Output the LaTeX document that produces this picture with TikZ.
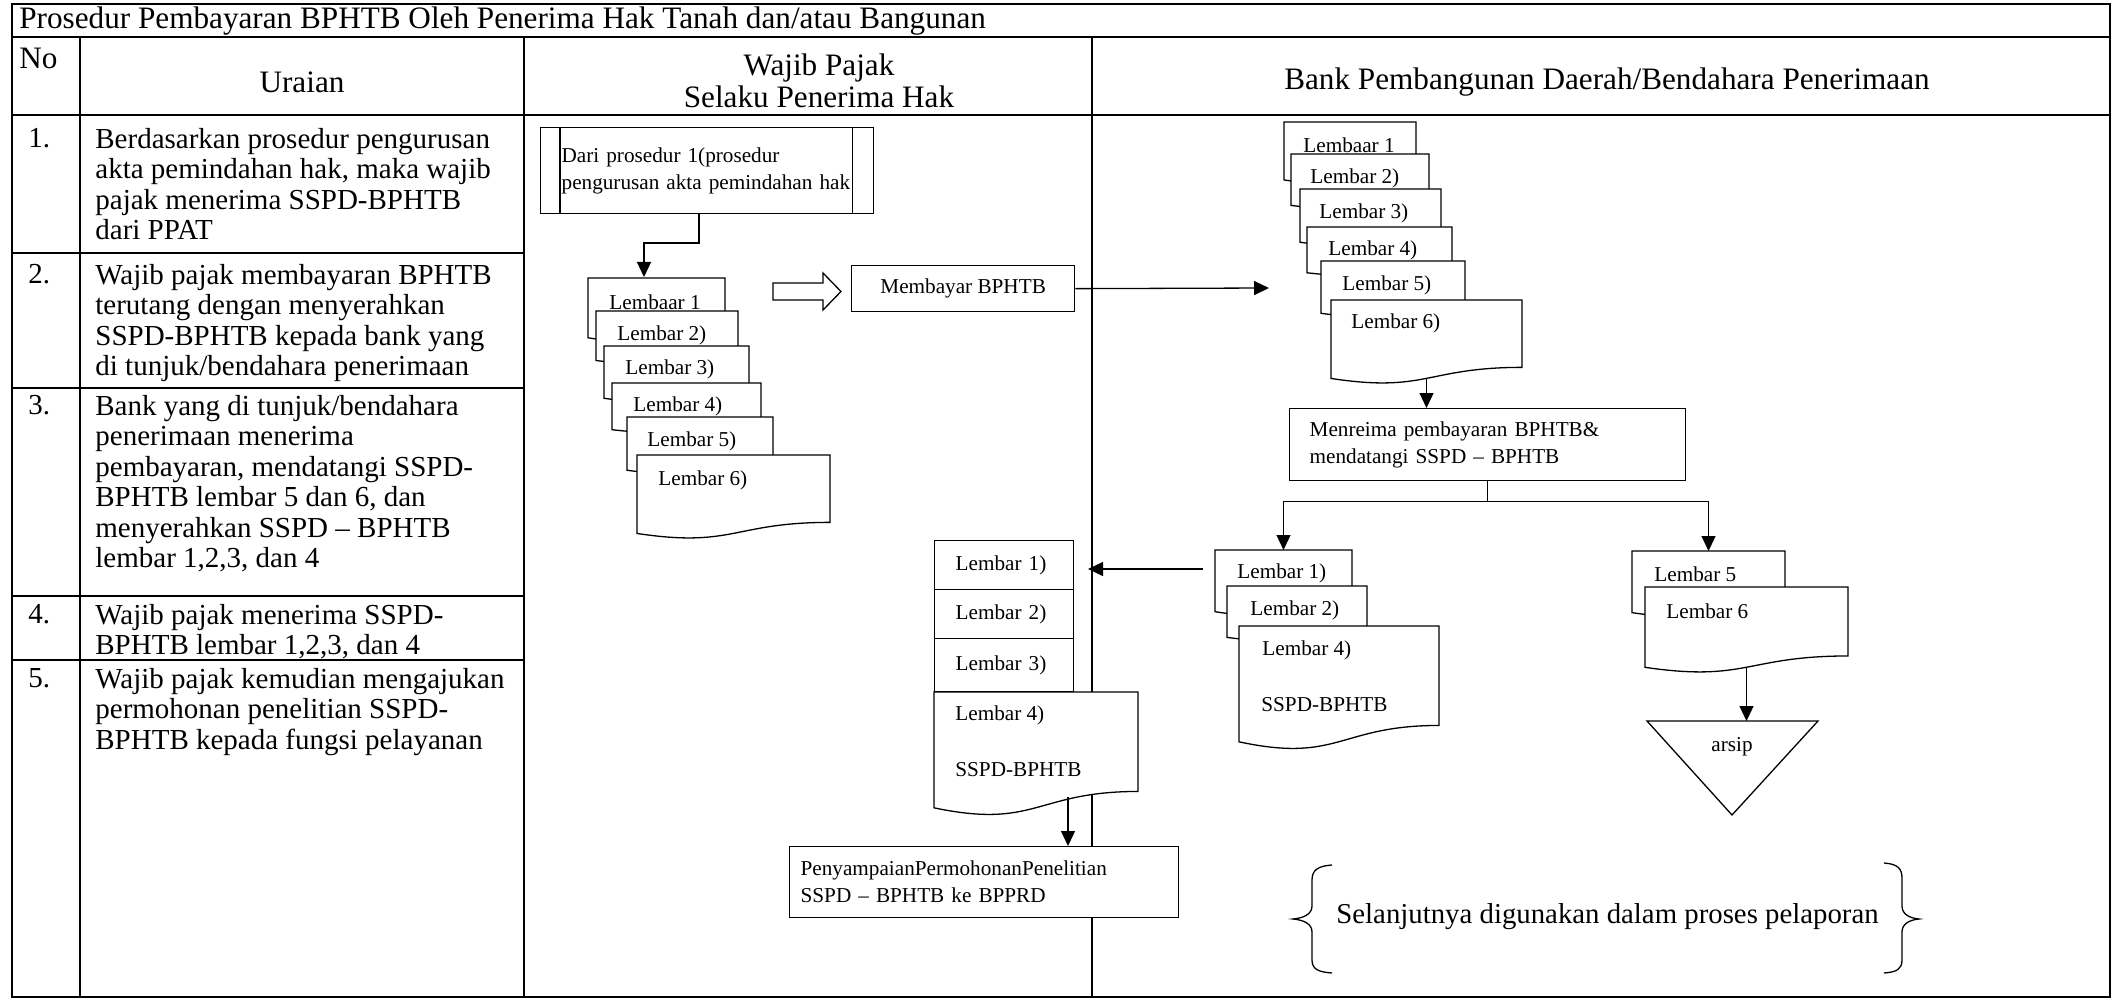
\documentclass[tikz,border=0pt]{standalone}
\usepackage{fontspec}
\setmainfont{Liberation Serif}
\usetikzlibrary{arrows.meta,calc}
\tikzset{
  tbl/.style={line width=0.75pt},
  shp/.style={draw, line width=0.65pt, fill=white},
  ln/.style={line width=0.65pt},
  arr/.style={line width=0.65pt, -{Triangle[length=7.5pt,width=7pt]}},
  big/.style={font=\fontsize{14.5}{15.2}\selectfont, inner sep=0pt, align=left},
  hdr/.style={font=\fontsize{15.6}{16}\selectfont, inner sep=0pt},
  sm/.style={font=\fontsize{10.6}{13.5}\selectfont, inner sep=0pt},
  note/.style={font=\fontsize{14.4}{15}\selectfont, inner sep=0pt},
}
% document shape: name, x1, y1, x2, height
\newcommand\docsh[5]{%
  \path[shp] (#2,#3) -- (#4,#3) -- (#4,{#3+0.802*#5})
    .. controls ({(#2+#4)/2},{#3+0.802*#5}) and ({(#2+#4)/2},{#3+1.1075*#5}) .. (#2,{#3+0.934*#5}) -- cycle;
  \coordinate (#1-top) at ({(#2+#4)/2},#3);
  \coordinate (#1-bot) at ({(#2+#4)/2},{#3+0.933*#5});
}
\begin{document}
\begin{tikzpicture}[x=0.5pt,y=-0.5pt]
\useasboundingbox (0,0) rectangle (2115,1000);
% ---------------- table ----------------
\draw[tbl] (12,4) rectangle (2110,997);
\draw[tbl] (12,37) -- (2110,37);
\draw[tbl] (12,115) -- (2110,115);
\draw[tbl] (80,37) -- (80,997);
\draw[tbl] (524,37) -- (524,997);
\draw[tbl] (1092,37) -- (1092,997);
\foreach \yy in {253,388,596,660} \draw[tbl] (12,\yy) -- (524,\yy);

\node[hdr, anchor=west] (title) at (19,21) {Prosedur Pembayaran BPHTB Oleh Penerima Hak Tanah dan/atau Bangunan};
\node[hdr, anchor=west] (hno) at (19,58) {No};
\node[hdr] (hur) at (302,82) {Uraian};
\node[hdr, align=center] (hwp) at (819,81) {Wajib Pajak\\Selaku Penerima Hak};
\node[hdr] (hbank) at (1607,82) {Bank Pembangunan Daerah/Bendahara Penerimaan};

\node[big, anchor=north west] (n1) at (28,128) {1.};
\node[big, anchor=north west] (u1) at (95,128) {Berdasarkan prosedur pengurusan\\akta pemindahan hak, maka wajib\\pajak menerima SSPD-BPHTB\\dari PPAT};
\node[big, anchor=north west] (n2) at (28,264) {2.};
\node[big, anchor=north west] (u2) at (95,264) {Wajib pajak membayaran BPHTB\\terutang dengan menyerahkan\\SSPD-BPHTB kepada bank yang\\di tunjuk/bendahara penerimaan};
\node[big, anchor=north west] (n3) at (28,395) {3.};
\node[big, anchor=north west] (u3) at (95,395) {Bank yang di tunjuk/bendahara\\penerimaan menerima\\pembayaran, mendatangi SSPD-\\BPHTB lembar 5 dan 6, dan\\menyerahkan SSPD – BPHTB\\lembar 1,2,3, dan 4};
\node[big, anchor=north west] (n4) at (28,604) {4.};
\node[big, anchor=north west] (u4) at (95,604) {Wajib pajak menerima SSPD-\\BPHTB lembar 1,2,3, dan 4};
\node[big, anchor=north west] (n5) at (28,668) {5.};
\node[big, anchor=north west] (u5) at (95,668) {Wajib pajak kemudian mengajukan\\permohonan penelitian SSPD-\\BPHTB kepada fungsi pelayanan};

% ---------------- Wajib Pajak column ----------------
\node[shp, sm, anchor=north west, minimum height=43pt, text width=145.5pt, inner xsep=10.5pt, inner ysep=0pt, align=left] (proc) at (540,127) {Dari prosedur 1(prosedur\\pengurusan akta pemindahan hak};
\draw[ln] ($(proc.north west)+(20,0)$) -- ($(proc.south west)+(20,0)$);
\draw[ln] ($(proc.north east)+(-22,0)$) -- ($(proc.south east)+(-22,0)$);

\docsh{wa1}{588}{278}{725}{64}
\node[sm, anchor=west] (wa1t) at (609,302) {Lembaar 1};
\docsh{wa2}{596}{311}{738}{53}
\node[sm, anchor=west] (wa2t) at (617,335) {Lembar 2)};
\docsh{wa3}{604}{346}{749}{56}
\node[sm, anchor=west] (wa3t) at (625,369) {Lembar 3)};
\docsh{wa4}{612}{383}{761}{50}
\node[sm, anchor=west] (wa4t) at (633,406) {Lembar 4)};
\docsh{wa5}{627}{417}{773}{57}
\node[sm, anchor=west] (wa5t) at (647,441) {Lembar 5)};
\docsh{wa6}{637}{455}{830}{84}
\node[sm, anchor=west] (wa6t) at (658,480) {Lembar 6)};

\coordinate (procout) at (699,213);
\coordinate (wa1in) at (644,277);
\draw[arr] (procout) -- ++(0,30) -| (wa1in);

% hollow arrow
\path[shp] (773,283) -- (823,283) -- (823,273) -- (841,291.5) -- (823,310) -- (823,300) -- (773,300) -- cycle;

\node[shp, sm, anchor=north west, minimum width=111.5pt, minimum height=23pt] (bayar) at (851,265) {Membayar BPHTB};

% lower stack
\node[shp, sm, anchor=north west, minimum height=24.5pt, text width=48.5pt, inner xsep=10.5pt, inner ysep=0pt, align=left] (wl1) at (934,540) {Lembar 1)};
\node[shp, sm, anchor=north west, minimum height=24.5pt, text width=48.5pt, inner xsep=10.5pt, inner ysep=0pt, align=left] (wl2) at (934,589) {Lembar 2)};
\node[shp, sm, anchor=north west, minimum height=26.5pt, text width=48.5pt, inner xsep=10.5pt, inner ysep=0pt, align=left] (wl3) at (934,638) {Lembar 3)};
\docsh{wl4}{934}{692}{1138}{124}
\node[sm, anchor=west] (wl4t) at (955,715) {Lembar 4)};
\node[sm, anchor=west] (wl4s) at (955,770) {SSPD-BPHTB};

\node[shp, sm, anchor=north west, minimum height=35.5pt, text width=183.5pt, inner xsep=5.5pt, inner ysep=0pt, align=left] (penyamp) at (789,846) {PenyampaianPermohonanPenelitian\\SSPD – BPHTB ke BPPRD};
\coordinate (wl4out) at (1068,797);
\draw[arr] (wl4out) -- (wl4out |- penyamp.north);

% ---------------- Bank column ----------------
\docsh{ba1}{1284}{122}{1416}{62}
\node[sm, anchor=west] (ba1t) at (1303,145) {Lembaar 1};
\docsh{ba2}{1291}{154}{1429}{55}
\node[sm, anchor=west] (ba2t) at (1310,178) {Lembar 2)};
\docsh{ba3}{1300}{189}{1441}{57}
\node[sm, anchor=west] (ba3t) at (1319,213) {Lembar 3)};
\docsh{ba4}{1307}{227}{1452}{49}
\node[sm, anchor=west] (ba4t) at (1328,250) {Lembar 4)};
\docsh{ba5}{1321}{261}{1465}{56}
\node[sm, anchor=west] (ba5t) at (1342,285) {Lembar 5)};
\docsh{ba6}{1331}{300}{1522}{84}
\node[sm, anchor=west] (ba6t) at (1351,323) {Lembar 6)};

\coordinate (bankin) at (1269,288);
\draw[arr] (bayar.east) -- (bankin);

\node[shp, sm, anchor=north west, minimum height=36pt, text width=178pt, inner xsep=10pt, inner ysep=0pt, align=left] (terima) at (1289,408) {Menreima pembayaran BPHTB\&\\mendatangi SSPD – BPHTB};
\draw[arr] (ba6-bot) -- (ba6-bot |- terima.north);

% branches
\docsh{lb1}{1215}{550}{1352}{66}
\node[sm, anchor=west] (lb1t) at (1237,573) {Lembar 1)};
\docsh{lb2}{1227}{586}{1367}{55}
\node[sm, anchor=west] (lb2t) at (1250,610) {Lembar 2)};
\docsh{lb4}{1239}{626}{1439}{124}
\node[sm, anchor=west] (lb4t) at (1262,650) {Lembar 4)};
\node[sm, anchor=west] (lb4s) at (1261,705) {SSPD-BPHTB};

\docsh{rb5}{1632}{551}{1785}{66}
\node[sm, anchor=west] (rb5t) at (1654,574) {Lembar 5};
\docsh{rb6}{1645}{587}{1848}{86}
\node[sm, anchor=west] (rb6t) at (1666,611) {Lembar 6};

\coordinate (split) at ($(terima.south)+(0,20)$);
\draw[ln] (terima.south) -- (split);
\draw[arr] (split) -| (lb1-top);
\draw[arr] (split) -| (rb5-top);

\coordinate (lbout) at (1203,569);
\coordinate (wlin) at (1088,569);
\draw[arr] (lbout) -- (wlin);

% archive triangle
\path[shp] (1647,721) -- (1818,721) -- (1732,815) -- cycle;
\node[sm] (arsip) at (1732,747) {arsip};
\coordinate (arsip-top) at (1732,721);
\draw[arr] (rb6-bot) -- (rb6-bot |- arsip-top);

% braces and note
\draw[ln] (1332,865) .. controls (1318,866) and (1312,870) .. (1312,880) -- (1312,906)
  .. controls (1312,914) and (1304,918) .. (1293,919)
  .. controls (1304,920) and (1312,924) .. (1312,932) -- (1312,960)
  .. controls (1312,969) and (1318,972) .. (1332,973);
\draw[ln] (1884,863) .. controls (1897,864) and (1902,868) .. (1902,878) -- (1902,906)
  .. controls (1902,914) and (1909,918) .. (1919,919)
  .. controls (1909,920) and (1902,924) .. (1902,932) -- (1902,960)
  .. controls (1902,969) and (1897,972) .. (1884,973);
\node[note, anchor=west] (lapor) at (1336,917) {Selanjutnya digunakan dalam proses pelaporan};
\end{tikzpicture}
\end{document}
